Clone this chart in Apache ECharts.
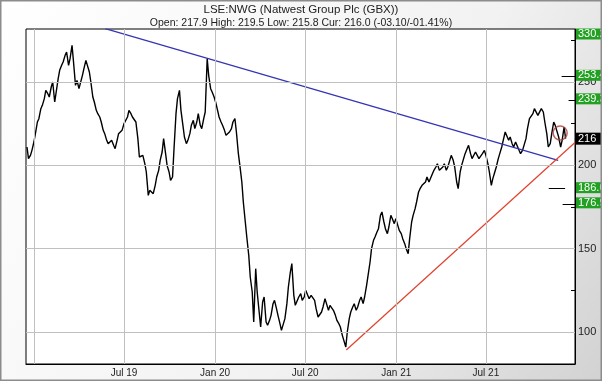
<!DOCTYPE html>
<html><head><meta charset="utf-8">
<script src="https://cdn.jsdelivr.net/npm/echarts@6/dist/echarts.min.js"></script>
<style>html,body{margin:0;padding:0;}#c{width:602px;height:381px;}</style>
</head><body><div id="c"></div>
<script>
const titleText = 'LSE:NWG (Natwest Group Plc (GBX))';
const subText = 'Open: 217.9 High: 219.5 Low: 215.8 Cur: 216.0 (-03.10/-01.41%)';
const firstWeek = '2018-12-17';
const lastDate = '2021-12-09';
// Monday closes, one per week
const prices = [
 211,206,214,226,234,240,243,247,238,252,
 260,266,260,272,248,246,254,263,256,241,
 233,229,221,215,212,212,215,218,225,229,
 231,228,216,204,201,182,184,188,197,208,
 207,196,193,231,245,224,213,219,227,226,
 224,228,264,246,241,233,226,221,217,222,
 228,207,190,166,146,124,138,112,118,106,
 107,117,114,105,102,117,136,122,117,123,
 121,124,122,119,109,112,120,113,115,110,
 105,98,91,108,115,113,119,117,128,142,
 155,160,170,166,159,170,165,164,159,153,
 147,166,174,184,188,190,190,195,199,197,
 199,197,203,203,190,196,204,210,207,205,
 207,205,209,201,188,196,204,211,220,215,
 213,214,209,209,216,228,231,233,231,232,
 219,213,226,220,211,223
];
// Thursday closes, between consecutive Mondays
const midPrices = [
 204,209,219,228,236,245,241,250,244,257,
 262,268,264,262,251,245,258,260,250,238,
 231,226,219,213,215,210,219,221,226,233,
 229,226,205,206,196,185,183,193,203,216,
 200,191,210,240,233,217,215,224,222,231,
 222,232,254,244,238,229,224,218,220,226,
 220,200,178,157,133,106,124,103,121,104,
 110,119,110,101,108,127,141,116,121,119,
 125,120,123,114,108,115,117,116,113,107,
 103,95,100,112,117,115,121,121,134,150,
 157,162,172,162,163,168,168,161,156,150,
 156,170,178,186,187,193,191,197,201,196,
 201,199,206,199,186,200,207,212,204,208,
 204,207,206,196,192,199,207,215,221,217,
 211,215,207,212,222,229,234,230,234,226,
 211,219,224,217,215
];
const lastPrice = 216;
const xMin = '2018-12-15', xMax = '2021-12-28';
const yMin = 80.8, yMax = 281.8;
const xTickDates = ['2019-01-01','2019-07-01','2020-01-01','2020-07-01','2021-01-01','2021-07-01'];
const xTickLabels = ['', 'Jul 19', 'Jan 20', 'Jul 20', 'Jan 21', 'Jul 21'];
const yLabelValues = [100, 150, 200, 250];
const yTickValues = [100, 125, 150, 175, 200, 225, 250, 275];
const blueTrend = [['2019-05-24', 282], ['2021-11-24', 203]];
const redTrend = [['2020-09-22', 89.2], ['2021-12-28', 213.7]];
const circlePoint = ['2021-11-28', 219.4];
const levelValues = [330.2, 253.4, 239.3, 186.0, 176.9];
const levelTexts = ['330.2', '253.4', '239.3', '186.0', '176.9'];
const levelMarkers = [ // [startDate, endDate, value]
  ['2021-12-01', '2021-12-28', 253.4],
  ['2021-12-15', '2021-12-28', 239.3],
  ['2021-11-05', '2021-12-08', 186.0],
  ['2021-12-03', '2021-12-28', 176.9]
];
const currentText = '216';

const P = s => { const a = s.split('-').map(Number); return new Date(a[0], a[1] - 1, a[2]).getTime(); };
const dayMs = 86400000;
const seriesData = [];
prices.forEach((v, i) => {
  const t = P(firstWeek) + i * 7 * dayMs;
  seriesData.push([t, v]);
  if (i < midPrices.length) seriesData.push([t + 3 * dayMs, midPrices[i]]);
});
seriesData.push([P(lastDate), lastPrice]);
const xTickTs = xTickDates.map(P);
const font = 'Liberation Sans, Arial, sans-serif';
const toXY = p => [P(p[0]), p[1]];

const chart = echarts.init(document.getElementById('c'));
const labelPoints = levelValues.map((v, i) => ({
  coord: [P(xMax), Math.min(v, yMax - 3.6)],
  symbol: 'rect', symbolSize: [30, 11], symbolOffset: [16, -1],
  itemStyle: { color: '#22a022' },
  label: { show: true, position: 'insideLeft', distance: 2, color: '#fff', fontSize: 11, fontFamily: font, formatter: levelTexts[i] }
}));
labelPoints.push({
  coord: [P(xMax), lastPrice], symbol: 'rect', symbolSize: [30, 12], symbolOffset: [16, 0],
  itemStyle: { color: '#000' },
  label: { show: true, position: 'insideLeft', distance: 2, color: '#fff', fontSize: 11, fontFamily: font, formatter: currentText }
});

chart.setOption({
  animation: false,
  backgroundColor: { type: 'linear', x: 0, y: 0, x2: 1, y2: 1, colorStops: [{ offset: 0, color: '#ffffff' }, { offset: 0.6, color: '#f2f2f2' }, { offset: 1, color: '#d2d2d2' }] },
  title: {
    text: titleText, subtext: subText, left: 'center', top: -1, itemGap: 2,
    textStyle: { fontSize: 11.5, fontWeight: 'normal', color: '#222', fontFamily: font },
    subtextStyle: { fontSize: 10.5, color: '#222', fontFamily: font }
  },
  grid: { left: 26, right: 27, top: 29, bottom: 17, show: true, backgroundColor: '#fff', borderColor: '#000', borderWidth: 1 },
  xAxis: {
    type: 'value', min: P(xMin), max: P(xMax),
    axisLine: { show: true, lineStyle: { color: '#000' } },
    axisTick: { show: true, inside: true, length: 3, customValues: xTickTs, lineStyle: { color: '#000' } },
    axisLabel: { customValues: xTickTs, color: '#222', fontSize: 10, fontFamily: font, margin: 4,
      formatter: v => { const i = xTickTs.indexOf(v); return i >= 0 ? xTickLabels[i] : ''; } },
    splitLine: { show: false }
  },
  yAxis: {
    type: 'value', position: 'right', min: yMin, max: yMax,
    axisLine: { show: true, lineStyle: { color: '#000' } },
    axisTick: { show: true, inside: true, length: 4, customValues: yTickValues, lineStyle: { color: '#000' } },
    axisLabel: { customValues: yLabelValues, color: '#222', fontSize: 11, fontFamily: font, margin: 3 },
    splitLine: { show: false }
  },
  series: [
    { type: 'line', data: [], z: 1, silent: true,
      markLine: { silent: true, symbol: 'none', animation: false, label: { show: false },
        lineStyle: { color: '#c0c0c0', width: 1, type: 'solid' },
        data: xTickTs.map(d => ({ xAxis: d })).concat(yLabelValues.map(v => ({ yAxis: v }))) } },
    { type: 'line', data: seriesData, showSymbol: false, z: 3, clip: true,
      lineStyle: { color: '#000', width: 1.4 } },
    { type: 'line', data: blueTrend.map(toXY), showSymbol: false, z: 4, clip: true,
      lineStyle: { color: '#3434b4', width: 1.2 } },
    { type: 'line', data: redTrend.map(toXY), showSymbol: false, z: 4, clip: true,
      lineStyle: { color: '#e0402c', width: 1.2 } },
    { type: 'scatter', data: [toXY(circlePoint)], symbol: 'circle', symbolSize: 14, z: 5,
      itemStyle: { color: 'rgba(0,0,0,0)', borderColor: '#a8403a', borderWidth: 1.5 } },
    { type: 'line', data: [], z: 6, silent: true,
      markLine: { silent: true, symbol: 'none', animation: false, label: { show: false },
        lineStyle: { color: '#000', width: 1, type: 'solid' },
        data: levelMarkers.map(m => [{ coord: [P(m[0]), m[2]] }, { coord: [P(m[1]), m[2]] }]) },
      markPoint: { silent: true, animation: false, data: labelPoints } }
  ],
  graphic: [
    { type: 'rect', z: 100, silent: true, shape: { x: 0.5, y: 0.5, width: 601, height: 380 },
      style: { fill: 'none', stroke: '#8c8c8c', lineWidth: 2 } }
  ]
});
</script></body></html>
